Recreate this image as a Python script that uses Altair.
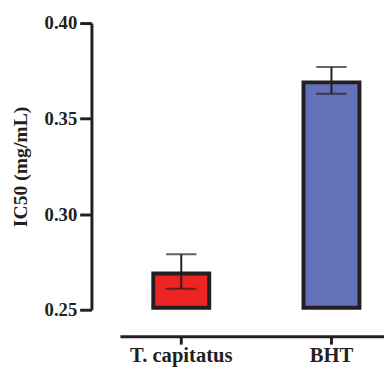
import altair as alt
import pandas as pd

names = ["T. capitatus", "BHT"]
ic50 = [0.27, 0.37]
err_lo = [0.261, 0.363]
err_hi = [0.279, 0.377]
colors = ["#EE2424", "#6470B8"]
y_ticks = [0.25, 0.30, 0.35, 0.40]

df = pd.DataFrame({"name": names, "ic50": ic50, "lo": err_lo, "hi": err_hi})

FONT = "Liberation Serif"
INK = "#231F20"

x_enc = alt.X(
    "name:N",
    sort=names,
    title=None,
    scale=alt.Scale(paddingInner=0.6275, paddingOuter=0.1928, align=0.576),
    axis=alt.Axis(
        labelAngle=0, labelFont=FONT, labelFontSize=21, labelFontWeight="bold",
        labelColor=INK, offset=27, tickSize=8, tickWidth=3, domainWidth=3,
        domainColor=INK, tickColor=INK, labelPadding=1, grid=False,
    ),
)

y_scale = alt.Scale(domain=[0.25, 0.40], nice=False, zero=False)

bars = alt.Chart(df).mark_bar(
    stroke=INK, strokeWidth=4, yOffset=2, y2Offset=-2
).encode(
    x=x_enc,
    y=alt.Y(
        "ic50:Q",
        scale=y_scale,
        title="IC50 (mg/mL)",
        axis=alt.Axis(
            values=y_ticks, format=".2f", labelFont=FONT, labelFontSize=19,
            labelFontWeight="bold", labelColor=INK, tickSize=12, tickWidth=3,
            domainWidth=3, domainColor=INK, tickColor=INK, labelPadding=3,
            offset=29, grid=False, titleFont=FONT, titleFontSize=20,
            titleFontWeight="bold", titleColor=INK, titlePadding=14,
        ),
    ),
    y2=alt.datum(0.25),
    color=alt.Color("name:N", scale=alt.Scale(domain=names, range=colors), legend=None),
)

rule = alt.Chart(df).mark_rule(color=INK, strokeWidth=2).encode(
    x=alt.X("name:N", sort=names),
    y=alt.Y("lo:Q", scale=y_scale),
    y2="hi:Q",
)

cap_lo = alt.Chart(df).mark_tick(color=INK, size=31, thickness=2).encode(
    x=alt.X("name:N", sort=names),
    y=alt.Y("lo:Q", scale=y_scale),
)
cap_hi = alt.Chart(df).mark_tick(color=INK, size=31, thickness=2).encode(
    x=alt.X("name:N", sort=names),
    y=alt.Y("hi:Q", scale=y_scale),
)

chart = (
    alt.layer(bars, rule, cap_lo, cap_hi)
    .properties(
        width=269, height=292,
        padding={"top": 3, "left": 2, "right": 0, "bottom": 0},
    )
    .configure(font=FONT)
    .configure_view(stroke=None, strokeWidth=0)
)

chart.save("out.html", embed_options={"renderer": "svg", "actions": False})
